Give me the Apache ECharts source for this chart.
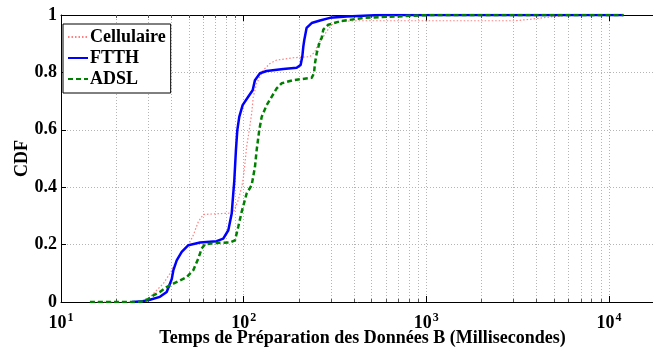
<!DOCTYPE html>
<html>
<head>
<meta charset="utf-8">
<script src="https://cdn.jsdelivr.net/npm/echarts@6/dist/echarts.min.js"></script>
<style>
  html, body { margin: 0; padding: 0; background: #fff; overflow: hidden; }
  #chart { width: 653px; height: 351px; }
</style>
</head>
<body>
<div id="chart"></div>
<script>
// Empirical CDFs of the data-preparation time (ms), one [time, cdf] list per access type
const seriesNames = ['Cellulaire', 'FTTH', 'ADSL'];

const cellulaire = [
  [14.4, 0], [27, 0], [30, 0.01], [32.0, 0.029], [36.3, 0.064], [39.5, 0.099],
  [42.1, 0.134], [45.8, 0.174], [49.8, 0.198], [53.0, 0.233], [56.4, 0.279],
  [60.1, 0.305], [74.2, 0.308], [87.7, 0.31], [93.4, 0.355], [97.5, 0.40],
  [99.5, 0.43], [101.6, 0.483], [103.8, 0.541], [107.3, 0.599], [110.6, 0.657],
  [112.9, 0.715], [117.8, 0.762], [128.1, 0.808], [139.3, 0.831], [151.6, 0.843],
  [186.9, 0.851], [230.7, 0.855], [245.6, 0.872], [256, 0.901], [267.3, 0.915],
  [284.7, 0.943], [303.1, 0.966], [336.6, 0.978], [415.5, 0.98], [3055, 0.98],
  [3690, 0.985], [4750, 0.993], [5860, 0.999], [10100, 1], [12000, 1]
];

const ftth = [
  [24.5, 0], [28, 0.003], [30.7, 0.008], [34.8, 0.018], [37.9, 0.035], [40.4, 0.08],
  [41.2, 0.11], [43.0, 0.145], [45.8, 0.175], [49.8, 0.198], [57.7, 0.207],
  [71.1, 0.212], [77.3, 0.221], [82.4, 0.25], [86.0, 0.308], [87.7, 0.378],
  [88.8, 0.42], [90.7, 0.529], [92.3, 0.599], [94.6, 0.645], [98.7, 0.686],
  [105.9, 0.715], [112, 0.738], [115.3, 0.773], [122.8, 0.797], [133.6, 0.805],
  [164.7, 0.812], [195, 0.816], [205, 0.826], [209.4, 0.855], [212, 0.889],
  [214.7, 0.913], [221, 0.955], [235.6, 0.972], [261.7, 0.981], [296.8, 0.99],
  [366, 0.995], [557, 1], [12000, 1]
];

const adsl = [
  [14.4, 0], [27.1, 0], [30, 0.01], [32.0, 0.023], [34.8, 0.035], [37.9, 0.052],
  [41.2, 0.064], [48.8, 0.087], [53.0, 0.111], [56.4, 0.151], [58.9, 0.186],
  [61.4, 0.201], [71.1, 0.206], [84.1, 0.207], [89.6, 0.215], [93.4, 0.262],
  [97.5, 0.314], [103.8, 0.378], [110.6, 0.407], [115.3, 0.471], [117.8, 0.529],
  [121.7, 0.599], [125.5, 0.645], [133.6, 0.686], [142.3, 0.715], [151.6, 0.744],
  [161.4, 0.762], [186.9, 0.773], [235.6, 0.781], [242.6, 0.797], [245.6, 0.831],
  [250.9, 0.866], [261.7, 0.91], [267.3, 0.92], [272.8, 0.949], [290.4, 0.966],
  [336.6, 0.978], [451.4, 0.99], [687.9, 0.995], [1046, 1], [12000, 1]
];

// Axis range and tick labels
const xMin = 10;
const xMax = 20000;
const yTicks = [0, 0.2, 0.4, 0.6, 0.8, 1];
const xTitle = 'Temps de Préparation des Données B (Millisecondes)';
const yTitle = 'CDF';

// Minor log ticks (2..9 within each decade)
const minorTicks = [];
for (let d = 1; d <= 4; d++) {
  for (let k = 2; k <= 9; k++) {
    const v = k * Math.pow(10, d);
    if (v < xMax) minorTicks.push([v]);
  }
}

const FONT = '"Liberation Serif", "DejaVu Serif", serif';
const gridLine = { color: '#b4b4b4', width: 1, type: [1, 2] };

const chart = echarts.init(document.getElementById('chart'), null, { renderer: 'canvas' });

chart.setOption({
  animation: false,
  backgroundColor: '#fff',
  textStyle: { fontFamily: FONT },
  grid: {
    left: 61, top: 15, width: 603, height: 287,
    outerBoundsMode: 'none', containLabel: false, show: false
  },
  legend: {
    orient: 'vertical',
    left: 63, top: 24,
    data: seriesNames,
    itemWidth: 20, itemHeight: 14, itemGap: 3,
    padding: [4, 5, 5, 4],
    backgroundColor: '#fff',
    borderColor: '#000', borderWidth: 1, borderRadius: 0,
    itemStyle: { opacity: 0 },
    textStyle: { fontFamily: FONT, fontWeight: 'bold', fontSize: 18, color: '#000', padding: [0, 0, 0, -3] }
  },
  xAxis: [{
    type: 'log', logBase: 10, min: xMin, max: xMax,
    name: xTitle, nameLocation: 'middle', nameGap: 27, nameMoveOverlap: false,
    nameTextStyle: { fontFamily: FONT, fontWeight: 'bold', fontSize: 18, color: '#000' },
    axisLine: { show: true, onZero: false, lineStyle: { color: '#000', width: 1 } },
    axisTick: { show: true, inside: true, length: 6, lineStyle: { color: '#000' } },
    splitLine: { show: true, lineStyle: gridLine },
    axisLabel: {
      margin: 10,
      fontWeight: 'bold', fontFamily: FONT, fontSize: 18, color: '#000',
      formatter: function (v) {
        const e = Math.log10(v);
        if (Math.abs(e - Math.round(e)) > 1e-6) return '';
        return '{b|10}{s|' + Math.round(e) + '}';
      },
      rich: {
        b: { fontFamily: FONT, fontWeight: 'bold', fontSize: 18, color: '#000' },
        s: { fontFamily: FONT, fontWeight: 'bold', fontSize: 12, color: '#000', padding: [0, 0, 10, 1] }
      }
    }
  }, {
    type: 'log', logBase: 10, min: xMin, max: xMax, position: 'top',
    axisLine: { show: true, onZero: false, lineStyle: { color: '#000', width: 1 } },
    axisTick: { show: true, inside: true, length: 6, lineStyle: { color: '#000' } },
    axisLabel: { show: false },
    splitLine: { show: false }
  }],
  yAxis: {
    type: 'value', min: yTicks[0], max: yTicks[yTicks.length - 1], interval: 0.2,
    position: 'left',
    name: yTitle, nameLocation: 'middle', nameGap: 30, nameRotate: 90, nameMoveOverlap: false,
    nameTextStyle: { fontFamily: FONT, fontWeight: 'bold', fontSize: 18, color: '#000' },
    axisLine: { show: true, onZero: false, lineStyle: { color: '#000', width: 1 } },
    axisTick: { show: true, inside: true, length: 5, lineStyle: { color: '#000' } },
    splitLine: { show: true, lineStyle: gridLine },
    axisLabel: { margin: 4, fontFamily: FONT, fontWeight: 'bold', fontSize: 18, color: '#000' }
  },
  series: [
    {
      // minor log grid lines and ticks
      type: 'custom', silent: true, z: 1,
      data: minorTicks,
      encode: { x: 0 },
      renderItem: function (params, api) {
        const v = api.value(0);
        const b = api.coord([v, 0]);
        const t = api.coord([v, 1]);
        const x = Math.round(b[0]) + 0.5;
        return {
          type: 'group',
          children: [
            { type: 'line', shape: { x1: x, y1: b[1], x2: x, y2: t[1] },
              style: { stroke: '#b4b4b4', lineWidth: 1, lineDash: [1, 2] } },
            { type: 'line', shape: { x1: x, y1: b[1], x2: x, y2: b[1] - 3 },
              style: { stroke: '#555', lineWidth: 1 } },
            { type: 'line', shape: { x1: x, y1: t[1], x2: x, y2: t[1] + 3 },
              style: { stroke: '#555', lineWidth: 1 } }
          ]
        };
      }
    },
    {
      name: seriesNames[0], type: 'line', data: cellulaire, symbol: 'none', z: 3,
      lineStyle: { color: '#ff8080', width: 1.2, type: [1.5, 2] },
      itemStyle: { color: '#ff8080' }
    },
    {
      name: seriesNames[1], type: 'line', data: ftth, symbol: 'none', z: 4,
      lineStyle: { color: '#0000ff', width: 2.5, type: 'solid' },
      itemStyle: { color: '#0000ff' }
    },
    {
      name: seriesNames[2], type: 'line', data: adsl, symbol: 'none', z: 5,
      lineStyle: { color: '#008000', width: 2.5, type: [5, 3] },
      itemStyle: { color: '#008000' }
    }
  ]
});
</script>
</body>
</html>
